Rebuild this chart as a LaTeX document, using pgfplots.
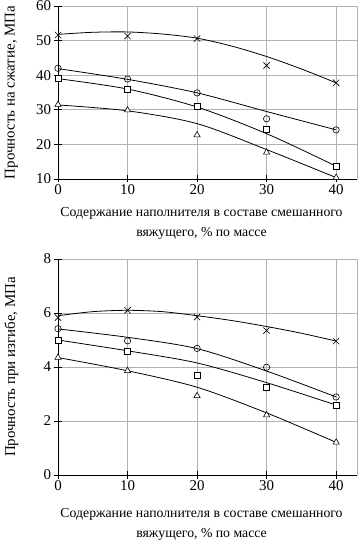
\documentclass[border=0pt]{standalone}
\usepackage{pgfplots}
\pgfplotsset{compat=1.18}
\usepackage{fontspec}
\setmainfont{Liberation Serif}
\begin{document}
\begin{tikzpicture}
\path[use as bounding box] (0bp,0bp) rectangle (359bp,545bp);
\pgfplotsset{
  myaxis/.style={
    scale only axis, width=299bp,
    xmin=0, xmax=43,
    axis x line=bottom, axis y line=left,
    axis line style={-, black, line width=0.9pt},
    xtick={0,10,20,30,40},
    grid=major, grid style={gray!60, line width=0.6pt},
    extra x ticks={43}, extra x tick labels={},
    extra x tick style={major tick length=0pt, grid=major},
    tick align=center, major tick length=7bp,
    tick style={black, line width=0.9pt},
    ticklabel style={font=\fontsize{15}{17}\selectfont},
    /pgf/number format/assume math mode=true,
    xticklabel style={yshift=1bp},
    xlabel style={font=\fontsize{13.8}{20}\selectfont, align=center, anchor=north},
    ylabel style={font=\fontsize{15}{17}\selectfont, anchor=center},
    clip=false,
  },
  crv/.style={black, line width=0.8pt, smooth, no marks},
  pts/.style={only marks, black, line width=0.6pt, mark options={fill=white, solid}},
}
% top axis
\begin{axis}[myaxis, at={(58bp,366bp)}, anchor=south west, height=173bp,
  ymin=10, ymax=60, ytick={10,20,30,40,50,60},
  xlabel={Содержание наполнителя в составе смешанного\\вяжущего, \% по массе},
  xlabel style={at={(axis description cs:0.48,-0.145)}},
  ylabel={Прочность на сжатие, МПа},
  ylabel style={at={(axis description cs:-0.156,0.5)}},
]
\addplot[crv] coordinates {(0,51.8) (5,52.4) (10,52.5) (15,51.9) (20,50.7) (25,48.4) (30,45.4) (35,41.8) (40,37.8)};
\addplot[crv] coordinates {(0,41.9) (10,38.8) (20,34.9) (30,29.5) (40,24.2)};
\addplot[crv] coordinates {(0,39.0) (10,36.0) (20,30.8) (30,23.1) (40,13.7)};
\addplot[crv] coordinates {(0,31.4) (10,29.7) (20,26.0) (30,18.5) (40,10.4)};
\addplot[pts, mark=x, mark size=4.5] coordinates {(0,51.6) (10,51.3) (20,50.6) (30,42.8) (40,37.8)};
\addplot[pts, mark=o, mark size=3.2] coordinates {(0,42) (10,38.9) (20,34.9) (30,27.4) (40,24.2)};
\addplot[pts, mark=square*, mark size=3] coordinates {(0,39.1) (10,35.9) (20,30.9) (30,24.3) (40,13.7)};
\addplot[pts, mark=triangle*, mark size=3.6] coordinates {(0,31.5) (10,29.9) (20,22.7) (30,17.7) (40,10.4)};
\end{axis}
% bottom axis
\begin{axis}[myaxis, at={(58bp,70bp)}, anchor=south west, height=216bp,
  ymin=0, ymax=8, ytick={0,2,4,6,8},
  xlabel={Содержание наполнителя в составе смешанного\\вяжущего, \% по массе},
  xlabel style={at={(axis description cs:0.48,-0.14)}},
  ylabel={Прочность при изгибе, МПа},
  ylabel style={at={(axis description cs:-0.156,0.5)}},
]
\addplot[crv] coordinates {(0,5.9) (5,6.05) (10,6.1) (15,6.05) (20,5.9) (25,5.72) (30,5.5) (35,5.25) (40,4.96)};
\addplot[crv] coordinates {(0,5.41) (10,5.1) (20,4.68) (30,3.85) (40,2.89)};
\addplot[crv] coordinates {(0,5.0) (10,4.6) (20,4.15) (30,3.42) (40,2.59)};
\addplot[crv] coordinates {(0,4.35) (10,3.86) (20,3.25) (30,2.3) (40,1.21)};
\addplot[pts, mark=x, mark size=4.5] coordinates {(0,5.83) (10,6.1) (20,5.85) (30,5.35) (40,4.96)};
\addplot[pts, mark=o, mark size=3.2] coordinates {(0,5.42) (10,4.97) (20,4.69) (30,3.99) (40,2.89)};
\addplot[pts, mark=square*, mark size=3] coordinates {(0,5.0) (10,4.59) (20,3.68) (30,3.26) (40,2.59)};
\addplot[pts, mark=triangle*, mark size=3.6] coordinates {(0,4.35) (10,3.86) (20,2.93) (30,2.22) (40,1.21)};
\end{axis}
\end{tikzpicture}
\end{document}
